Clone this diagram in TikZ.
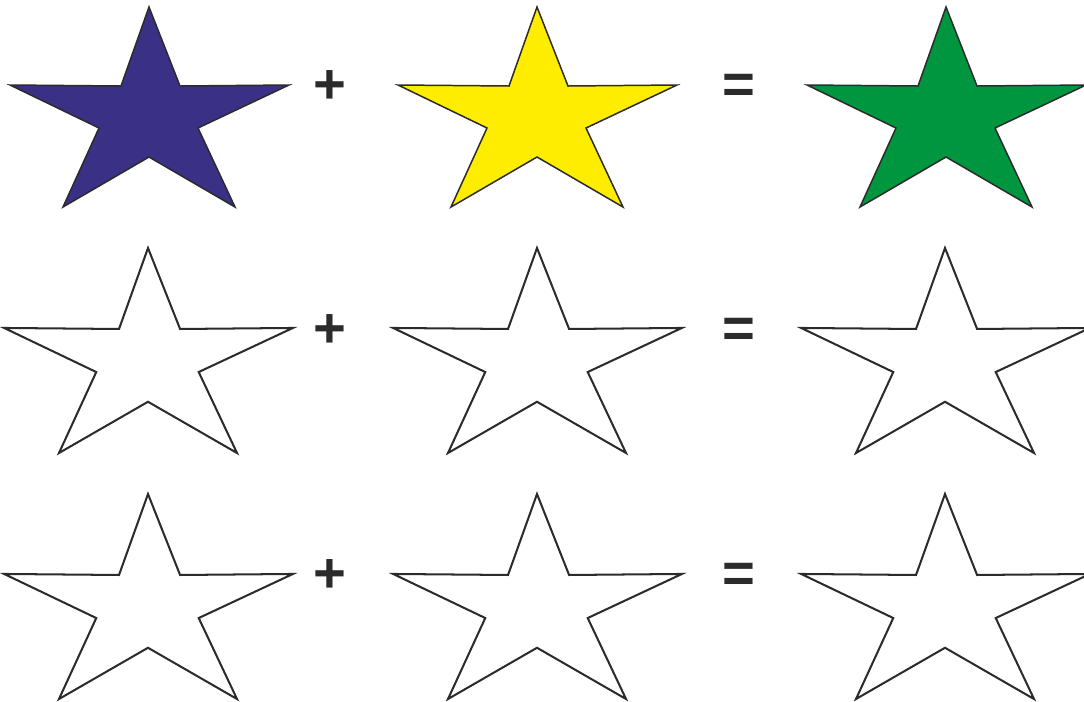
\documentclass[tikz,border=0pt]{standalone}
\usepackage{fontspec}
\setsansfont{Liberation Sans}
\definecolor{starblue}{HTML}{3A3085}
\definecolor{staryellow}{HTML}{FFED00}
\definecolor{stargreen}{HTML}{009640}
\definecolor{inkgrey}{HTML}{2B2B2B}
\tikzset{
  fivestar/.pic={
    \draw[pic actions] (0,0) -- (31,79) -- (140,78) -- (49,121) -- (86,200)
      -- (0,150) -- (-86,200) -- (-50,121) -- (-139,78) -- (-28,79) -- cycle;
  },
  filled/.style={draw=inkgrey, line width=0.85pt},
  outline/.style={draw=inkgrey, fill=white, line width=1.15pt, xscale=1.035, yscale=1.025},
  sign/.style={text=inkgrey, inner sep=0pt, font=\sffamily\bfseries\fontsize{32}{32}\selectfont}
}
\begin{document}
\begin{tikzpicture}[x=0.02cm,y=-0.02cm]
 \useasboundingbox (0,0) rectangle (1084,701);
 % coloured row
 \path (149,7) pic[filled, fill=starblue] {fivestar};
 \path (537,7) pic[filled, fill=staryellow] {fivestar};
 \path (946,7) pic[filled, fill=stargreen] {fivestar};
 % empty rows
 \foreach \y in {248,494}
   \foreach \x in {148,537,945}
     \path (\x,\y) pic[outline] {fivestar};
 % signs
 \foreach \y/\n in {87/a,331/b,576/c} {
   \node[sign] (plus\n) at (330,\y) {+};
   \node[sign] (equal\n) at (739,\y+2) {=};
 }
\end{tikzpicture}
\end{document}
